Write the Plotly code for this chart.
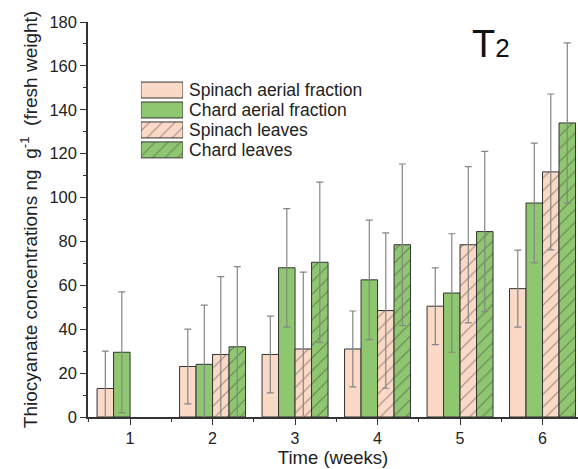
import plotly.graph_objects as go

# Thiocyanate concentration (ng g-1 fresh weight) over six weeks, treatment T2
weeks = [1, 2, 3, 4, 5, 6]
series_names = ["Spinach aerial fraction", "Chard aerial fraction",
                "Spinach leaves", "Chard leaves"]
spinach_aerial = [13, 23, 28.5, 31, 50.5, 58.5]
spinach_aerial_sd = [17, 17, 17.5, 17.3, 17.5, 17.5]
chard_aerial = [29.5, 24, 68, 62.5, 56.5, 97.5]
chard_aerial_sd = [27.5, 27, 27, 27.2, 27, 27.3]
spinach_leaves = [None, 28.5, 31, 48.5, 78.5, 111.7]
spinach_leaves_sd = [None, 35.5, 35, 35.4, 35.6, 35.5]
chard_leaves = [None, 32, 70.5, 78.5, 84.5, 134]
chard_leaves_sd = [None, 36.5, 36.5, 36.8, 36.5, 36.5]

values = [spinach_aerial, chard_aerial, spinach_leaves, chard_leaves]
errors = [spinach_aerial_sd, chard_aerial_sd, spinach_leaves_sd, chard_leaves_sd]

PEACH = "#FAD9C6"
GREEN = "#8FC670"
fills = [PEACH, GREEN, PEACH, GREEN]
hatches = ["", "", "/", "/"]
EDGE = "#333333"
TEXT = "#222222"
FONT = "Liberation Sans, Arial, sans-serif"

fig = go.Figure()

for name, y, err, fill, hatch in zip(series_names, values, errors, fills, hatches):
    fig.add_trace(go.Bar(
        x=weeks, y=y, name=name, showlegend=False,
        marker=dict(color=fill, line=dict(color=EDGE, width=1),
                    pattern=dict(shape=hatch, fgcolor="#3a3a3a", size=9,
                                 solidity=0.12)),
        error_y=dict(type="data", array=err, symmetric=True,
                     color="#858585", thickness=1.2, width=3.5),
    ))

# Legend drawn as a small horizontal bar panel so the swatches are large
fig.add_trace(go.Bar(
    x=[1] * len(series_names), y=series_names, orientation="h",
    xaxis="x2", yaxis="y2", showlegend=False, hoverinfo="skip",
    marker=dict(color=fills, line=dict(color=EDGE, width=1),
                pattern=dict(shape=hatches, fgcolor="#3a3a3a", size=9,
                             solidity=0.12)),
))

fig.update_layout(
    width=578, height=469,
    margin=dict(l=88, r=0, t=22, b=52),
    paper_bgcolor="white", plot_bgcolor="white",
    font=dict(family=FONT, size=16, color=TEXT),
    barmode="group", bargap=0.2, bargroupgap=0,
    xaxis=dict(
        range=[0.49, 6.43], tickmode="linear", tick0=1, dtick=1,
        ticks="outside", ticklen=6, tickwidth=1.2, tickcolor=EDGE,
        minor=dict(dtick=0.5, tick0=0, ticks="outside", ticklen=3,
                   tickwidth=1.2, tickcolor=EDGE),
        showline=True, linecolor=EDGE, linewidth=1.5,
        showgrid=False, zeroline=False,
        tickfont=dict(size=16, color=TEXT),
        title=dict(text="Time (weeks)", font=dict(size=18.5, color=TEXT),
                   standoff=2),
    ),
    yaxis=dict(
        range=[0, 180], tickmode="linear", tick0=0, dtick=20,
        ticks="outside", ticklen=6, tickwidth=1.2, tickcolor=EDGE,
        minor=dict(dtick=10, ticks="outside", ticklen=3, tickwidth=1.2,
                   tickcolor=EDGE),
        showline=True, linecolor=EDGE, linewidth=1.5,
        showgrid=False, zeroline=False,
        tickfont=dict(size=16.5, color=TEXT),
        title=dict(text="Thiocyanate concentrations ng  g<sup>-1</sup>  (fresh weight)",
                   font=dict(size=19, color=TEXT), standoff=7),
    ),
    xaxis2=dict(domain=[0.108, 0.194], range=[0, 1], anchor="y2",
                visible=False, fixedrange=True),
    yaxis2=dict(domain=[0.651, 0.853], anchor="x2", side="right",
                type="category", categoryorder="array",
                categoryarray=series_names[::-1],
                tickmode="array", tickvals=series_names, ticktext=series_names,
                showline=False, ticks="", showgrid=False, zeroline=False,
                ticklabelstandoff=5,
                tickfont=dict(size=17.5, color=TEXT)),
    annotations=[dict(
        text="T<span style='font-size:26px'>2</span>",
        x=0.822, y=0.945, xref="paper", yref="paper",
        xanchor="center", yanchor="middle", showarrow=False,
        font=dict(size=38, color="#111111", family=FONT),
    )],
)

fig.write_html("out.html")
